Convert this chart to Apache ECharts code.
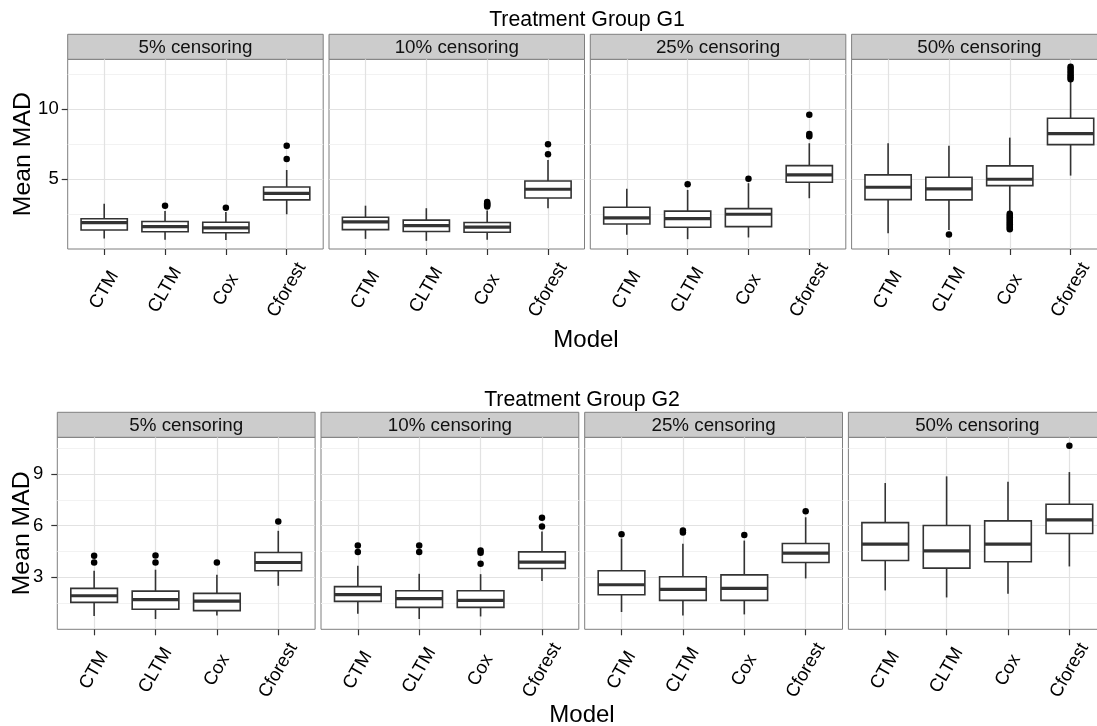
<!DOCTYPE html>
<html><head><meta charset="utf-8">
<script src="https://cdn.jsdelivr.net/npm/echarts@6/dist/echarts.min.js"></script>
<style>html,body{margin:0;padding:0;background:#fff}#c{width:1097px;height:726px}</style>
</head><body><div id="c"></div>
<script>
// ---------- data ----------
const models = ['CTM', 'CLTM', 'Cox', 'Cforest'];
const censoring = ['5% censoring', '10% censoring', '25% censoring', '50% censoring'];
const groupTitles = ['Treatment Group G1', 'Treatment Group G2'];
const xTitle = 'Model';
const yTitle = 'Mean MAD';
const yTicksG1 = [5, 10];
const yMinorG1 = [2.5, 7.5, 12.5];
const yTicksG2 = [3, 6, 9];
const yMinorG2 = [1.5, 4.5, 7.5, 10.5];

// box stats per model: [lower whisker, Q1, median, Q3, upper whisker]
const boxG1_05 = [[0.78, 1.39, 1.92, 2.19, 3.26], [0.70, 1.27, 1.63, 2.00, 2.75], [0.68, 1.20, 1.54, 1.94, 2.68], [2.51, 3.53, 4.00, 4.45, 5.66]];
const boxG1_10 = [[0.76, 1.42, 1.97, 2.30, 3.12], [0.62, 1.28, 1.70, 2.09, 2.94], [0.69, 1.23, 1.59, 1.92, 2.77], [2.94, 3.67, 4.29, 4.88, 6.37]];
const boxG1_25 = [[1.06, 1.82, 2.25, 3.01, 4.33], [0.74, 1.59, 2.20, 2.73, 4.24], [0.86, 1.63, 2.51, 2.91, 4.72], [3.65, 4.79, 5.31, 5.97, 7.56]];
const boxG1_50 = [[1.16, 3.55, 4.43, 5.31, 7.56], [1.40, 3.53, 4.31, 5.14, 7.39], [2.70, 4.55, 5.00, 5.95, 7.96], [5.26, 7.46, 8.24, 9.34, 11.94]];
// outliers per model
const outG1_05 = [[], [3.12], [2.98], [7.39, 6.44]];
const outG1_10 = [[], [], [3.38, 3.30, 3.22, 3.15, 3.06], [7.49, 6.78]];
const outG1_25 = [[], [4.64], [5.04], [9.59, 8.22, 8.05]];
const outG1_50 = [[], [1.08], [2.55, 2.42, 2.30, 2.18, 2.05, 1.92, 1.80, 1.67, 1.55, 1.45], [13.00, 12.85, 12.70, 12.55, 12.40, 12.25, 12.12]];

const boxG2_05 = [[0.72, 1.52, 1.91, 2.34, 3.37], [0.55, 1.12, 1.68, 2.18, 3.43], [0.76, 1.04, 1.60, 2.05, 3.13], [2.49, 3.37, 3.85, 4.43, 5.70]];
const boxG2_10 = [[0.86, 1.58, 1.97, 2.44, 3.66], [0.55, 1.23, 1.74, 2.20, 3.19], [0.70, 1.23, 1.64, 2.20, 3.17], [2.77, 3.50, 3.87, 4.47, 5.66]];
const boxG2_25 = [[0.96, 1.97, 2.55, 3.37, 5.25], [0.76, 1.64, 2.28, 3.02, 4.94], [0.82, 1.64, 2.34, 3.13, 5.13], [2.92, 3.85, 4.40, 4.96, 6.49]];
const boxG2_50 = [[2.22, 3.97, 4.92, 6.18, 8.49], [1.81, 3.52, 4.53, 6.01, 8.88], [2.03, 3.89, 4.92, 6.28, 8.57], [3.62, 5.54, 6.34, 7.25, 9.13]];
const outG2_05 = [[4.24, 3.85], [4.26, 3.85], [3.85], [6.24]];
const outG2_10 = [[4.84, 4.46], [4.84, 4.46], [4.55, 4.42, 3.77], [6.47, 5.95]];
const outG2_25 = [[5.50], [5.72, 5.60], [5.45], [6.84]];
const outG2_50 = [[], [], [], [10.66]];

const boxes = [[boxG1_05, boxG1_10, boxG1_25, boxG1_50], [boxG2_05, boxG2_10, boxG2_25, boxG2_50]];
const outliers = [[outG1_05, outG1_10, outG1_25, outG1_50], [outG2_05, outG2_10, outG2_25, outG2_50]];
const yTicks = [yTicksG1, yTicksG2];
const yMinor = [yMinorG1, yMinorG2];

// ---------- layout ----------
const FONT = 'Liberation Sans, Arial, Helvetica, sans-serif';
const rows = [
  {left0: 67.7, pitch: 261.3, width: 255.5, top: 59.3, height: 189.7, stripH: 25, yMin: 0.04, yMax: 13.53,
   titleX: 587, titleY: 20, modelX: 586, modelY: 340, meanX: 23, yLabMargin: 9},
  {left0: 57.3, pitch: 263.7, width: 257.8, top: 437.3, height: 192.0, stripH: 25, yMin: -0.05, yMax: 11.16,
   titleX: 582, titleY: 400, modelX: 582, modelY: 715, meanX: 22, yLabMargin: 14}
];
const BOXW = 0.76;
const INK = '#333333';
const LW = 1.6;

const grids = [], xAxes = [], yAxes = [], series = [], graphics = [];

function renderBox(params, api) {
  const x = api.value(0);
  const lo = api.coord([x, api.value(1)]);
  const q1 = api.coord([x, api.value(2)]);
  const md = api.coord([x, api.value(3)]);
  const q3 = api.coord([x, api.value(4)]);
  const hi = api.coord([x, api.value(5)]);
  const w = api.size([BOXW, 0])[0];
  const cx = lo[0];
  const ls = {stroke: INK, lineWidth: LW, fill: null};
  return {type: 'group', children: [
    {type: 'line', shape: {x1: cx, y1: hi[1], x2: cx, y2: q3[1]}, style: ls},
    {type: 'line', shape: {x1: cx, y1: q1[1], x2: cx, y2: lo[1]}, style: ls},
    {type: 'rect', shape: {x: cx - w / 2, y: q3[1], width: w, height: q1[1] - q3[1]}, style: {fill: '#ffffff', stroke: INK, lineWidth: LW}},
    {type: 'line', shape: {x1: cx - w / 2, y1: md[1], x2: cx + w / 2, y2: md[1]}, style: {stroke: INK, lineWidth: 3.2}}
  ]};
}

rows.forEach((R, r) => {
  for (let p = 0; p < 4; p++) {
    const gi = r * 4 + p;
    const left = R.left0 + p * R.pitch;
    grids.push({left: left, top: R.top, width: R.width, height: R.height, show: true,
      backgroundColor: '#ffffff', borderColor: '#7f7f7f', borderWidth: 1,
      containLabel: false, outerBoundsMode: 'none'});
    xAxes.push({gridIndex: gi, type: 'value', min: -0.6, max: 3.6, position: 'bottom',
      axisLine: {show: false, onZero: false},
      axisTick: {show: true, customValues: [0, 1, 2, 3], length: 6, lineStyle: {color: INK, width: 1.2}},
      axisLabel: {show: true, customValues: [0, 1, 2, 3], formatter: v => models[Math.round(v)] || '',
        rotate: 60, align: 'center', verticalAlign: 'middle', margin: 41,
        fontSize: 18.5, fontFamily: FONT, color: '#000000', hideOverlap: false},
      splitLine: {show: true, lineStyle: {color: '#e2e2e2', width: 1.2}}
    });
    yAxes.push({gridIndex: gi, type: 'value', min: R.yMin, max: R.yMax, position: 'left',
      axisLine: {show: false, onZero: false},
      axisTick: {show: p === 0, customValues: yTicks[r], length: 6, lineStyle: {color: INK, width: 1.2}},
      axisLabel: {show: p === 0, customValues: yTicks[r], margin: R.yLabMargin, fontSize: 18.5, fontFamily: FONT, color: '#000000'},
      splitLine: {show: true, lineStyle: {color: '#e2e2e2', width: 1.2}}
    });
    yAxes.push({gridIndex: gi, type: 'value', min: R.yMin, max: R.yMax, position: 'right',
      axisLine: {show: false, onZero: false},
      axisTick: {show: false, customValues: yMinor[r]},
      axisLabel: {show: false, customValues: yMinor[r]},
      splitLine: {show: true, lineStyle: {color: '#f2f2f2', width: 1.2}}
    });
    const boxData = boxes[r][p].map((s, i) => [i].concat(s));
    series.push({type: 'custom', xAxisIndex: gi, yAxisIndex: 2 * gi, renderItem: renderBox,
      data: boxData, encode: {x: 0, y: [1, 2, 3, 4, 5]}, silent: true, z: 3});
    const outData = [];
    outliers[r][p].forEach((arr, i) => arr.forEach(v => outData.push([i, v])));
    series.push({type: 'scatter', xAxisIndex: gi, yAxisIndex: 2 * gi, data: outData,
      symbol: 'circle', symbolSize: 6.5, itemStyle: {color: '#000000', opacity: 1},
      silent: true, z: 4});
    // strip
    graphics.push({type: 'rect', shape: {x: left, y: R.top - R.stripH, width: R.width, height: R.stripH},
      style: {fill: '#cccccc', stroke: '#7f7f7f', lineWidth: 1}, silent: true});
    graphics.push({type: 'text', x: left + R.width / 2, y: R.top - R.stripH / 2 + 1,
      style: {text: censoring[p], fontSize: 18.8, fontFamily: FONT, fill: '#111111',
        align: 'center', verticalAlign: 'middle', textAlign: 'center', textVerticalAlign: 'middle'}, silent: true});
  }
  graphics.push({type: 'text', x: R.titleX, y: R.titleY,
    style: {text: groupTitles[r], fontSize: 21.3, fontFamily: FONT, fill: '#000000',
      align: 'center', verticalAlign: 'middle', textAlign: 'center', textVerticalAlign: 'middle'}, silent: true});
  graphics.push({type: 'text', x: R.modelX, y: R.modelY,
    style: {text: xTitle, fontSize: 24, fontFamily: FONT, fill: '#000000',
      align: 'center', verticalAlign: 'middle', textAlign: 'center', textVerticalAlign: 'middle'}, silent: true});
  graphics.push({type: 'text', x: R.meanX, y: R.top + R.height / 2, rotation: Math.PI / 2,
    style: {text: yTitle, fontSize: 24.8, fontFamily: FONT, fill: '#000000',
      align: 'center', verticalAlign: 'middle', textAlign: 'center', textVerticalAlign: 'middle'}, silent: true});
});

const chart = echarts.init(document.getElementById('c'), null, {renderer: 'canvas'});
chart.setOption({
  animation: false,
  backgroundColor: '#ffffff',
  grid: grids, xAxis: xAxes, yAxis: yAxes, series: series,
  graphic: {elements: graphics}
});
</script></body></html>
